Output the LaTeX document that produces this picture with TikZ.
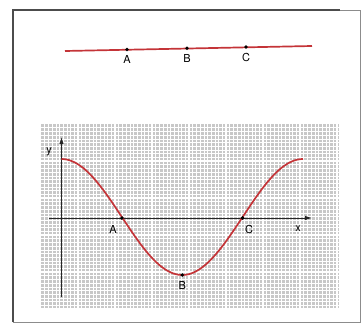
\documentclass[tikz,border=0pt]{standalone}
\usepackage{fontspec}
\setmainfont{TeX Gyre Heros}
\usetikzlibrary{arrows.meta,positioning}
\definecolor{curvered}{RGB}{196,52,56}
\definecolor{paper}{RGB}{200,200,200}

\begin{document}
\begin{tikzpicture}[x=1pt, y=-1pt,
  pt/.style={circle, fill=black, inner sep=0pt, minimum size=3.8pt},
  lab/.style={font=\fontsize{11}{13}\selectfont, inner sep=1pt},
  red line/.style={curvered, line width=1.7pt},
  ax/.style={-{Latex[length=2.5mm,width=1.6mm]}, line width=0.9pt, black!85}]
\useasboundingbox (0,0) rectangle (362,324);
% outer frame
\draw[black!45, line width=0.8pt] (13,10) rectangle (360,322);
\draw[black!70, line width=1.6pt] (13,322) -- (13,10) -- (340,10);
% straight line with the three points
\coordinate (l0) at (65,51);
\coordinate (l1) at (312,46);
\draw[red line] (l0) -- (l1);
\node[pt] (pa) at (127,49.5) {};
\node[pt] (pb) at (187,48.2) {};
\node[pt] (pc) at (246,47) {};
\node[lab, below=3pt of pa] (la) {A};
\node[lab, below=3pt of pb] (lb) {B};
\node[lab, below=3pt of pc] (lc) {C};
% graph paper
\fill[paper] (41,124) rectangle (339,308);
\foreach \gx in {44.7,48.4,...,338} \draw[white, line width=0.6pt] (\gx,124) -- (\gx,308);
\foreach \gy in {127.7,131.4,...,307} \draw[white, line width=0.6pt] (41,\gy) -- (339,\gy);
\foreach \gx in {59.5,78,...,338} \draw[white, line width=1.2pt] (\gx,124) -- (\gx,308);
\foreach \gy in {142.5,161,...,307} \draw[white, line width=1.2pt] (41,\gy) -- (339,\gy);
% axes
\coordinate (o) at (61.5,218);
\coordinate (xs) at (49,218);
\coordinate (xe) at (312,218);
\coordinate (ys) at (61.5,297);
\coordinate (ye) at (61.5,137);
\draw[ax] (xs) -- (xe);
\draw[ax] (ys) -- (ye);
\node[lab] (ly) at (49,152) {y};
\node[lab] (lx) at (298,229) {x};
% cosine curve
\draw[red line] plot[domain=61.5:303, samples=90, smooth] (\x, {217-58*cos(1.49068*(\x-61.5))});
\node[pt] (ca) at (121.9,218) {};
\node[pt] (cb) at (182.2,275) {};
\node[pt] (cc) at (242.6,218) {};
\node[lab] (lca) at (113,229) {A};
\node[lab, below=3pt of cb] (lcb) {B};
\node[lab] (lcc) at (249,229) {C};
\end{tikzpicture}
\end{document}
